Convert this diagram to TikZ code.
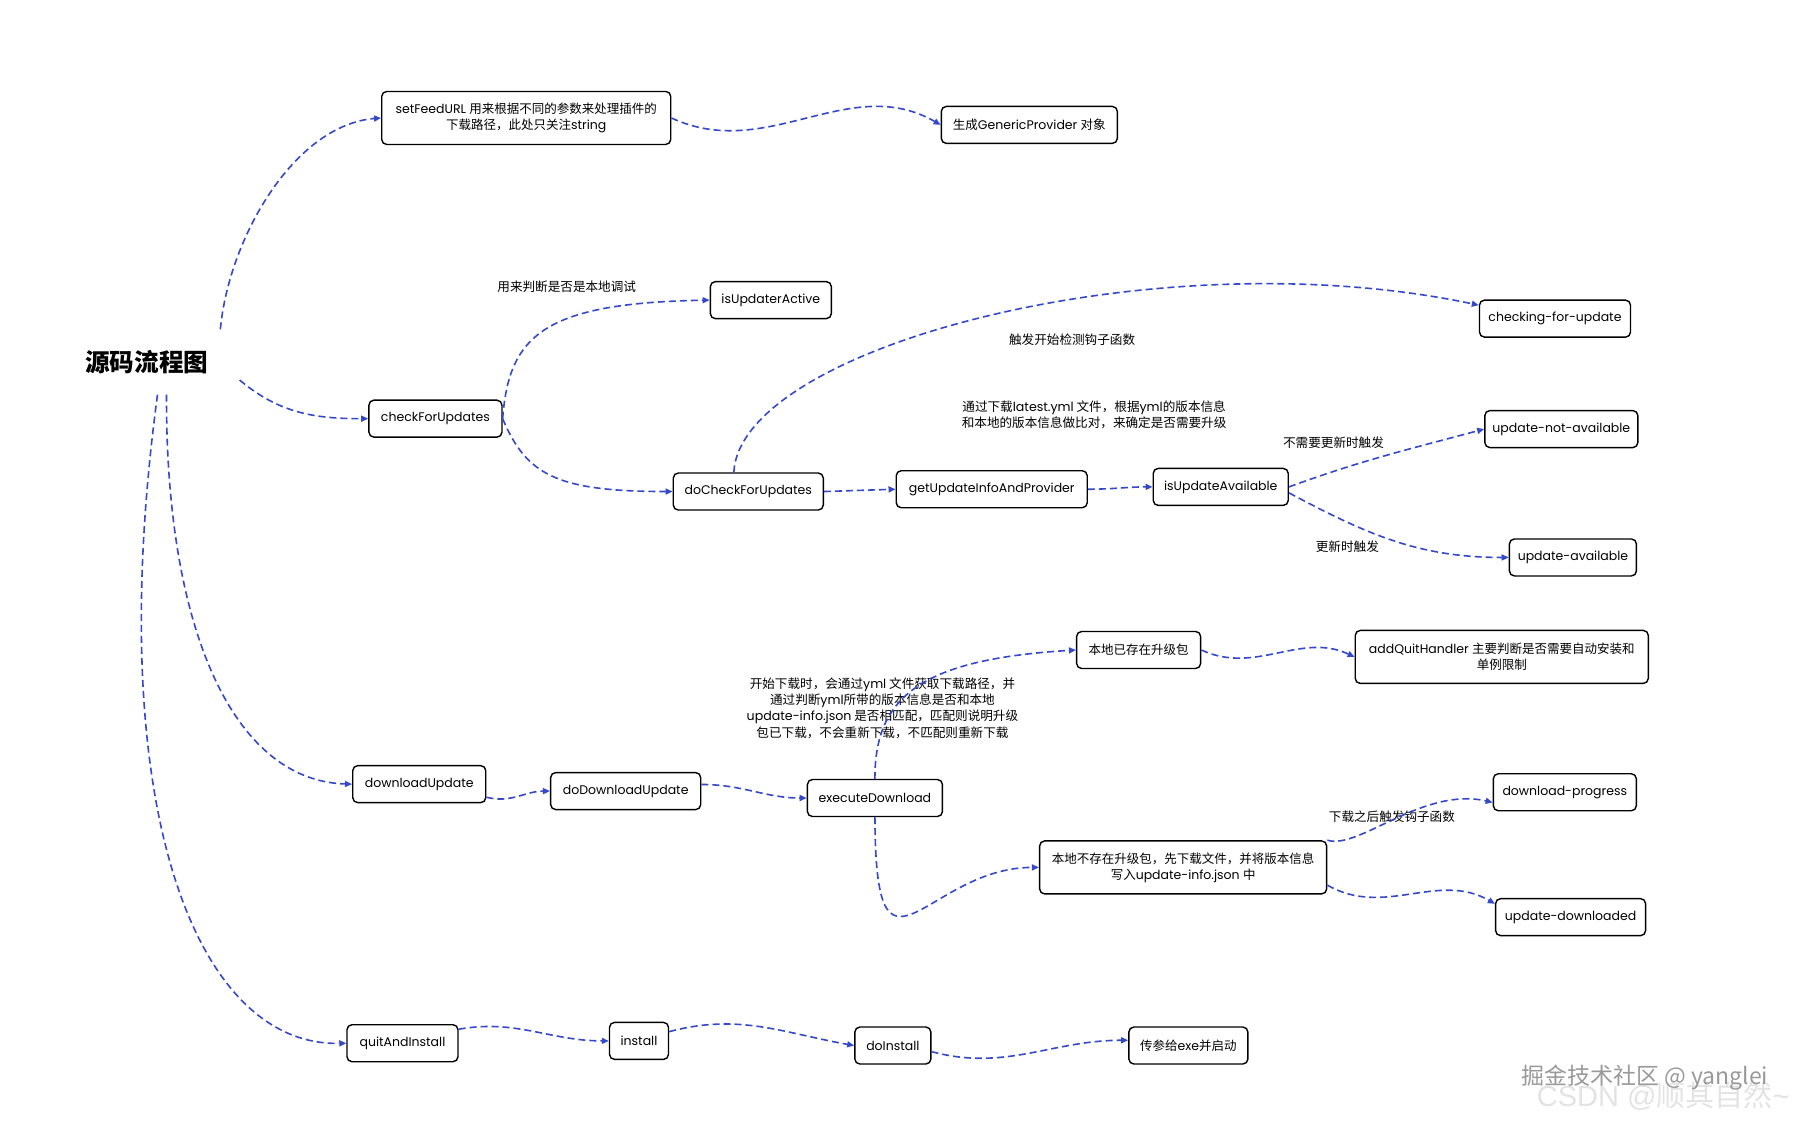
\documentclass[tikz,border=0pt]{standalone}
\usepackage{fontspec}
\setmainfont{Poppins}
\newfontfamily\cjk{Noto Sans CJK SC}
\newfontfamily\markfont{Liberation Sans}
\newcommand{\zh}[1]{{\cjk #1}}
\usetikzlibrary{arrows.meta}
\definecolor{linkblue}{RGB}{52,72,204}

\begin{document}
\begin{tikzpicture}[x=1.1565pt, y=1.1565pt]
	\tikzstyle{box} = [draw, rounded corners=5pt, line width=1.4pt, fill=white, minimum height=37pt, inner sep=3pt, align=center, font=\fontsize{12.5}{16}\selectfont]
	\tikzstyle{note} = [align=center, inner sep=0pt, font=\cjk\fontsize{12.6}{16.4}\selectfont]
	\tikzstyle{link} = [draw=linkblue, line width=1.6pt, dash pattern=on 7pt off 4pt, -{Triangle[length=7pt,width=6pt]}]
	\useasboundingbox (0,0) rectangle (1565,-972.8);
	\node [minimum width=185pt, minimum height=65pt, font=\cjk\bfseries\fontsize{24.6}{28}\selectfont] (title) at (127,-313) {源码流程图};
	\node [box, minimum width=289pt, minimum height=53pt] (feed) at (455,-102) {setFeedURL \zh{用来根据不同的参数来处理插件的}\\\zh{下载路径，此处只关注}string};
	\node [box, minimum width=176pt] (provider) at (890,-108) {\zh{生成}GenericProvider \zh{对象}};
	\node [box, minimum width=121pt] (active) at (666.5,-259.5) {isUpdaterActive};
	\node [box, minimum width=151pt] (checking) at (1344.5,-275.5) {checking-for-update};
	\node [box, minimum width=133pt] (check) at (376.5,-362) {checkForUpdates};
	\node [box, minimum width=153pt] (notavail) at (1350,-371) {update-not-available};
	\node [box, minimum width=150pt] (docheck) at (647,-425) {doCheckForUpdates};
	\node [box, minimum width=191pt] (getinfo) at (857.5,-423) {getUpdateInfoAndProvider};
	\node [box, minimum width=135pt] (isavail) at (1055.5,-421) {isUpdateAvailable};
	\node [box, minimum width=127pt] (avail) at (1360,-482) {update-available};
	\node [box, minimum width=124pt] (exist) at (984.5,-562) {\zh{本地已存在升级包}};
	\node [box, minimum width=293pt, minimum height=53pt] (quitfn) at (1298.5,-568) {addQuitHandler \zh{主要判断是否需要自动安装和}\\\zh{单例限制}};
	\node [box, minimum width=143pt] (progress) at (1353,-685) {download-progress};
	\node [box, minimum width=133pt] (download) at (362.5,-678) {downloadUpdate};
	\node [box, minimum width=150pt] (dodownload) at (541,-684) {doDownloadUpdate};
	\node [box, minimum width=135pt] (execute) at (756.5,-690) {executeDownload};
	\node [box, minimum width=287pt, minimum height=53pt] (noexist) at (1023,-750) {\zh{本地不存在升级包，先下载文件，并将版本信息}\\\zh{写入}update-info.json \zh{中}};
	\node [box, minimum width=150pt] (downloaded) at (1358,-793) {update-downloaded};
	\node [box, minimum width=111pt] (quit) at (348,-902) {quitAndInstall};
	\node [box, minimum width=59pt] (install) at (552.5,-900) {install};
	\node [box, minimum width=76pt] (doinstall) at (772,-904) {doInstall};
	\node [box, minimum width=119pt] (launch) at (1027.5,-904) {\zh{传参给}exe\zh{并启动}};
	\node [note] (activenote) at (490,-248) {用来判断是否是本地调试};
	\node [note] (hooknote) at (927,-294) {触发开始检测钩子函数};
	\node [note] (ymlnote) at (946,-358.5) {通过下载{\rmfamily latest.yml} 文件，根据{\rmfamily yml}的版本信息\\和本地的版本信息做比对，来确定是否需要升级};
	\node [note] (notneednote) at (1153,-383) {不需要更新时触发};
	\node [note] (neednote) at (1165,-473) {更新时触发};
	\node [note] (dlnote) at (763,-612.2) {开始下载时，会通过{\rmfamily yml} 文件获取下载路径，并\\通过判断{\rmfamily yml}所带的版本信息是否和本地\\{\rmfamily update-info.json} 是否相匹配，匹配则说明升级\\包已下载，不会重新下载，不匹配则重新下载};
	\node [note] (afterdlnote) at (1203.5,-706) {下载之后触发钩子函数};
	\node [font=\fontsize{29}{32}\selectfont, text=gray!22] (csdn) at (1438,-948) {{\markfont CSDN @}\zh{顺其自然}{\markfont\textasciitilde}};
	\node [font=\cjk\fontsize{23}{26}\selectfont, text=gray!80] (juejin) at (1422,-932) {掘金技术社区 @ yanglei};
	\draw [link] (title.24) .. controls (198,-205) and (255,-108) .. (feed.west);
	\draw [link] (title.-11) to[out=-40, in=180] (check.west);
	\draw [link] (title.-59) .. controls (143,-540) and (200,-675) .. (download.west);
	\draw [link] (title.-72) .. controls (88,-700) and (170,-905) .. (quit.west);
	\draw [link] (feed.east) to[out=-25, in=150] (provider.west);
	\draw [link] (check.east) .. controls (440,-290) and (470,-262) .. (active.west);
	\draw [link] (check.east) .. controls (455,-410) and (480,-425) .. (docheck.west);
	\draw [link] (docheck.127) .. controls (640,-300) and (1000,-205) .. (checking.170);
	\draw [link] (docheck.east) -- (getinfo.west);
	\draw [link] (getinfo.east) to[out=0, in=180] (isavail.west);
	\draw [link] (isavail.east) to[out=20, in=195] (notavail.west);
	\draw [link] (isavail.-5) to[out=-28, in=180] (avail.west);
	\draw [link] (execute.north) .. controls (756,-600) and (800,-570) .. (exist.west);
	\draw [link] (exist.east) to[out=-25, in=155] (quitfn.west);
	\draw [link] (download.-11) to[out=-15, in=180] (dodownload.west);
	\draw [link] (dodownload.5) to[out=0, in=180] (execute.west);
	\draw [link] (execute.south) .. controls (757,-870) and (800,-750) .. (noexist.west);
	\draw [link] (noexist.north east) .. controls (1175,-735) and (1230,-680) .. (progress.188);
	\draw [link] (noexist.-7) to[out=-30, in=150] (downloaded.170);
	\draw [link] (quit.14) to[out=10, in=180] (install.west);
	\draw [link] (install.17) to[out=15, in=170] (doinstall.west);
	\draw [link] (doinstall.-9) to[out=-15, in=180] (launch.175);
\end{tikzpicture}
\end{document}
